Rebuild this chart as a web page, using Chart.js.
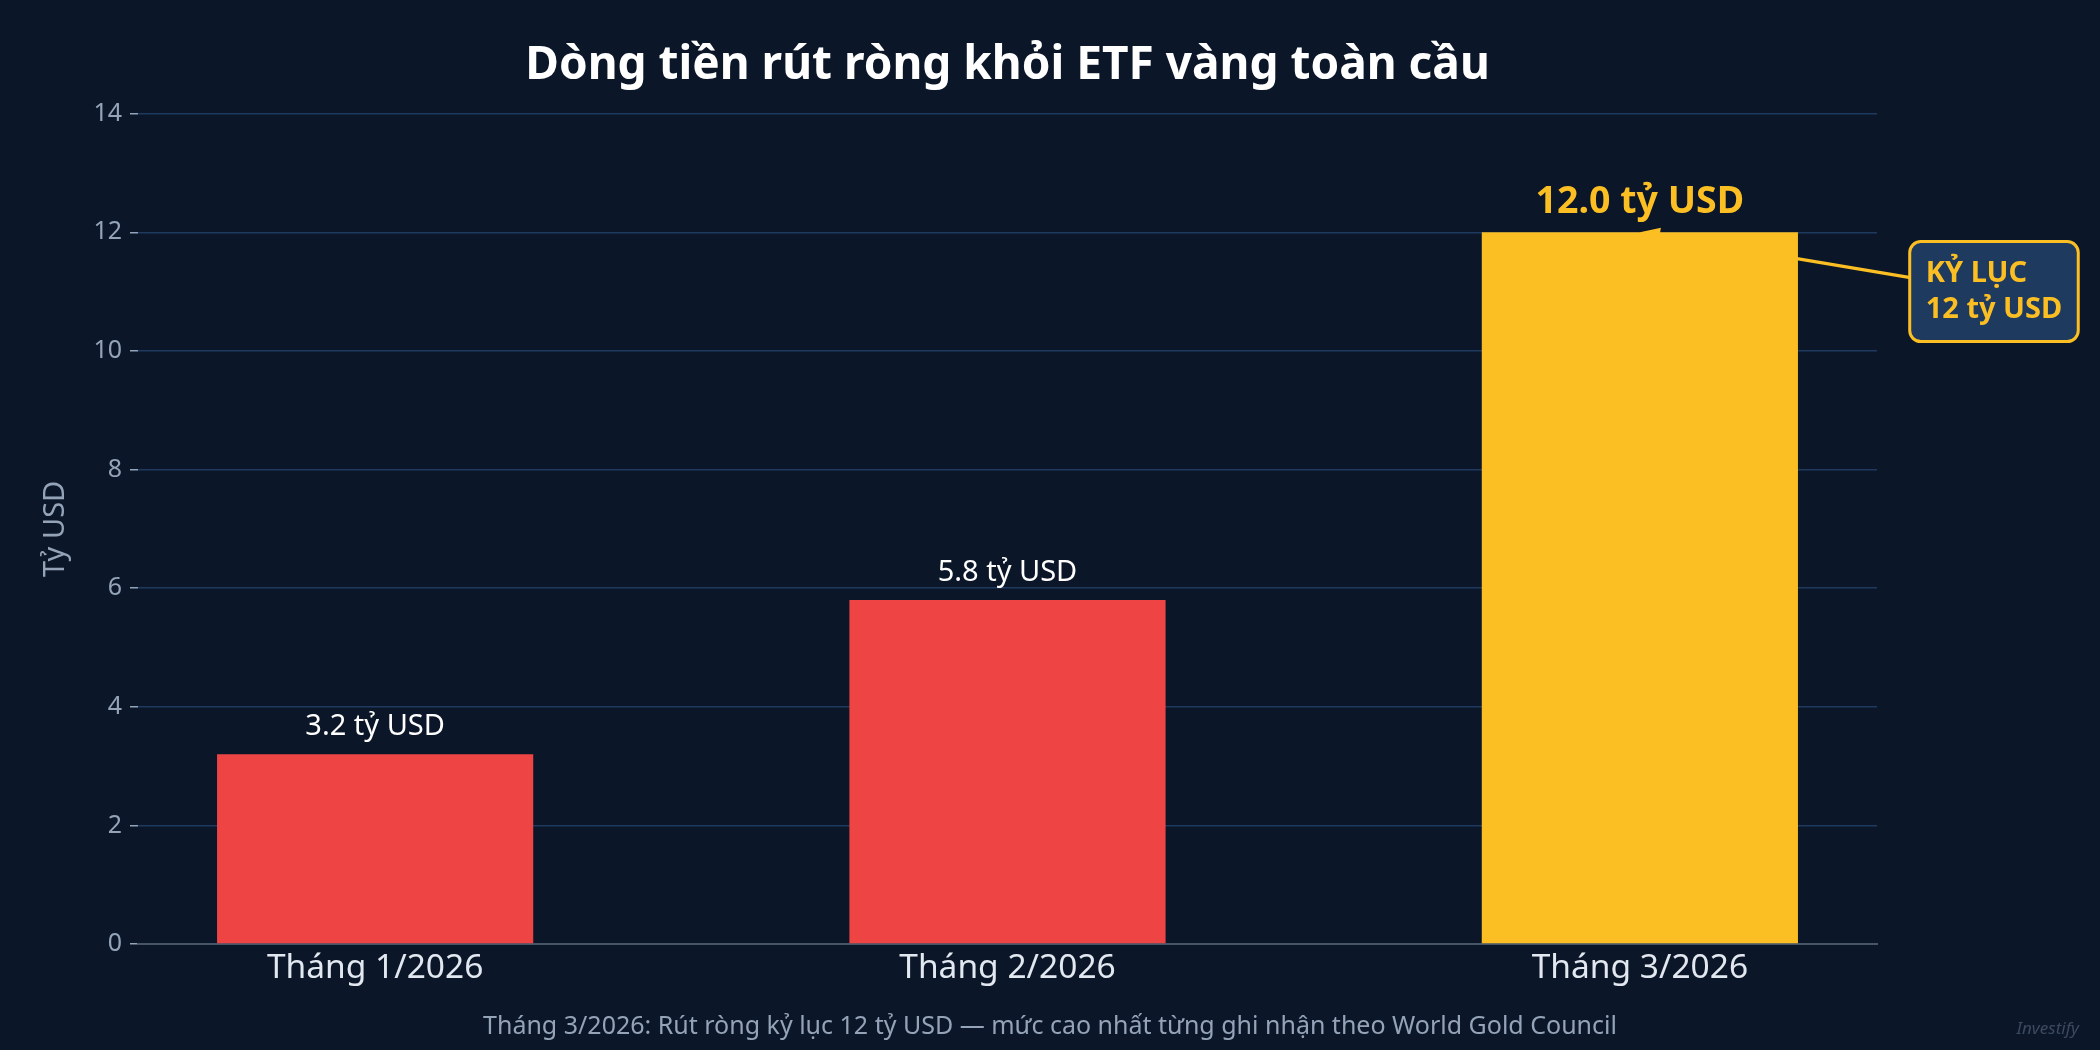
<!DOCTYPE html>
<html lang="vi">
<head>
<meta charset="utf-8">
<title>Dòng tiền rút ròng khỏi ETF vàng toàn cầu</title>
<script src="https://cdn.jsdelivr.net/npm/chart.js@4.4.1/dist/chart.umd.min.js"></script>
<style>
  html, body { margin: 0; padding: 0; background: #0b1628; }
  #wrap { width: 2100px; height: 1050px; }
</style>
</head>
<body>
<div id="wrap"><canvas id="etfChart"></canvas></div>
<script>
// data
const months = ['Tháng 1/2026', 'Tháng 2/2026', 'Tháng 3/2026'];
const outflows = [3.2, 5.8, 12.0];
const barColors = ['#ef4444', '#ef4444', '#fbbf24'];
const yTicks = [0, 2, 4, 6, 8, 10, 12, 14];
const recordIndex = 2;
const recordNote = ['KỶ LỤC', '12 tỷ USD'];
const footNote = 'Tháng 3/2026: Rút ròng kỷ lục 12 tỷ USD — mức cao nhất từng ghi nhận theo World Gold Council';

const GOLD = '#fbbf24';
const BG = '#0b1628';
Chart.defaults.font.family = "'Noto Sans', sans-serif";

// where the callout box sits, in data units
const noteAt = { x: 2.56, y: 11 };

const background = {
    id: 'background',
    beforeDraw(chart) {
        const { ctx, width, height } = chart;
        ctx.save();
        ctx.fillStyle = BG;
        ctx.fillRect(0, 0, width, height);
        ctx.restore();
    }
};

// arrow from the callout to the top of the record bar, drawn behind the bars
const recordArrow = {
    id: 'recordArrow',
    beforeDatasetsDraw(chart) {
        const { ctx, scales: { x, y } } = chart;
        const x0 = x.getPixelForValue(noteAt.x), y0 = y.getPixelForValue(noteAt.y);
        const x1 = x.getPixelForValue(recordIndex), y1 = y.getPixelForValue(outflows[recordIndex]);
        const len = Math.hypot(x1 - x0, y1 - y0);
        const dx = (x1 - x0) / len, dy = (y1 - y0) / len;
        const headLen = 20, headW = 8;
        const bx = x1 - dx * headLen, by = y1 - dy * headLen;
        ctx.save();
        ctx.strokeStyle = GOLD;
        ctx.fillStyle = GOLD;
        ctx.lineWidth = 3.5;
        ctx.beginPath();
        ctx.moveTo(x0, y0);
        ctx.lineTo(bx, by);
        ctx.stroke();
        ctx.beginPath();
        ctx.moveTo(x1, y1);
        ctx.lineTo(bx - dy * headW, by + dx * headW);
        ctx.lineTo(bx + dy * headW, by - dx * headW);
        ctx.closePath();
        ctx.fill();
        ctx.restore();
    }
};

const barLabels = {
    id: 'barLabels',
    afterDatasetsDraw(chart) {
        const { ctx } = chart;
        const meta = chart.getDatasetMeta(0);
        ctx.save();
        ctx.textAlign = 'center';
        ctx.textBaseline = 'alphabetic';
        meta.data.forEach((bar, i) => {
            const isRecord = i === recordIndex;
            ctx.font = isRecord ? "bold 37.5px 'Noto Sans'" : "29px 'Noto Sans'";
            ctx.fillStyle = isRecord ? GOLD : '#ffffff';
            ctx.fillText(outflows[i].toFixed(1) + ' tỷ USD', bar.x, bar.y - 19);
        });
        ctx.restore();
    }
};

const recordBox = {
    id: 'recordBox',
    afterDatasetsDraw(chart) {
        const { ctx, scales: { x, y } } = chart;
        const cx = x.getPixelForValue(noteAt.x), cy = y.getPixelForValue(noteAt.y);
        ctx.save();
        ctx.font = "bold 29px 'Noto Sans'";
        const textW = Math.max(...recordNote.map(t => ctx.measureText(t).width));
        const lineH = 36, padX = 16, padY = 14;
        const w = textW + padX * 2, h = lineH * recordNote.length + padY * 2;
        ctx.beginPath();
        ctx.roundRect(cx - w / 2, cy - h / 2, w, h, 11);
        ctx.fillStyle = '#1e3a5f';
        ctx.fill();
        ctx.lineWidth = 3;
        ctx.strokeStyle = GOLD;
        ctx.stroke();
        ctx.fillStyle = GOLD;
        ctx.textAlign = 'left';
        ctx.textBaseline = 'middle';
        recordNote.forEach((t, i) => {
            ctx.fillText(t, cx - textW / 2, cy - h / 2 + padY + lineH * (i + 0.5));
        });
        ctx.restore();
    }
};

// footnote centred on the whole figure, plus the small watermark
const footer = {
    id: 'footer',
    afterDraw(chart) {
        const { ctx, width, height } = chart;
        ctx.save();
        ctx.textBaseline = 'middle';
        ctx.font = "25px 'Noto Sans'";
        ctx.fillStyle = '#94a3b8';
        ctx.textAlign = 'center';
        ctx.fillText(footNote, width / 2, height - 23);
        ctx.font = "italic 17px 'Noto Sans'";
        ctx.fillStyle = '#3b4a5f';
        ctx.textAlign = 'right';
        ctx.fillText('Investify', width - 21, height - 21);
        ctx.restore();
    }
};

new Chart(document.getElementById('etfChart'), {
    type: 'bar',
    data: {
        datasets: [{
            data: outflows.map((v, i) => ({ x: i, y: v })),
            backgroundColor: barColors,
            borderWidth: 0,
            barPercentage: 0.5,
            categoryPercentage: 1.0
        }]
    },
    options: {
        responsive: true,
        maintainAspectRatio: false,
        devicePixelRatio: 1,
        animation: false,
        layout: { padding: { left: 0, right: 223, top: 0, bottom: 48 } },
        scales: {
            x: {
                type: 'linear',
                offset: false,
                min: -0.375,
                max: 2.375,
                afterBuildTicks: axis => { axis.ticks = months.map((m, i) => ({ value: i })); },
                afterFit: axis => { axis.height = 58; },
                ticks: {
                    callback: value => months[value],
                    color: '#e2e8f0',
                    font: { size: 33.5 },
                    padding: 4,
                    autoSkip: false,
                    maxRotation: 0
                },
                grid: { display: false, drawTicks: false },
                border: { display: true, color: '#475569', width: 2 }
            },
            y: {
                min: 0,
                max: 14,
                afterBuildTicks: axis => { axis.ticks = yTicks.map(v => ({ value: v })); },
                afterFit: axis => { axis.width = 138; },
                ticks: {
                    color: '#94a3b8',
                    font: { size: 25 },
                    padding: 8
                },
                grid: {
                    color: '#1e3a5f',
                    lineWidth: 1.5,
                    tickColor: '#94a3b8',
                    tickLength: 8,
                    tickWidth: 1.5
                },
                border: { display: false },
                title: {
                    display: true,
                    text: 'Tỷ USD',
                    color: '#94a3b8',
                    font: { size: 29 },
                    padding: { top: 38, bottom: 0 }
                }
            }
        },
        plugins: {
            legend: { display: false },
            tooltip: { enabled: false },
            title: {
                display: true,
                text: 'Dòng tiền rút ròng khỏi ETF vàng toàn cầu',
                color: '#ffffff',
                fullSize: false,
                font: { size: 46, weight: 'bold' },
                padding: { top: 38, bottom: 20.5 }
            }
        }
    },
    plugins: [background, recordArrow, barLabels, recordBox, footer]
});
</script>
</body>
</html>
